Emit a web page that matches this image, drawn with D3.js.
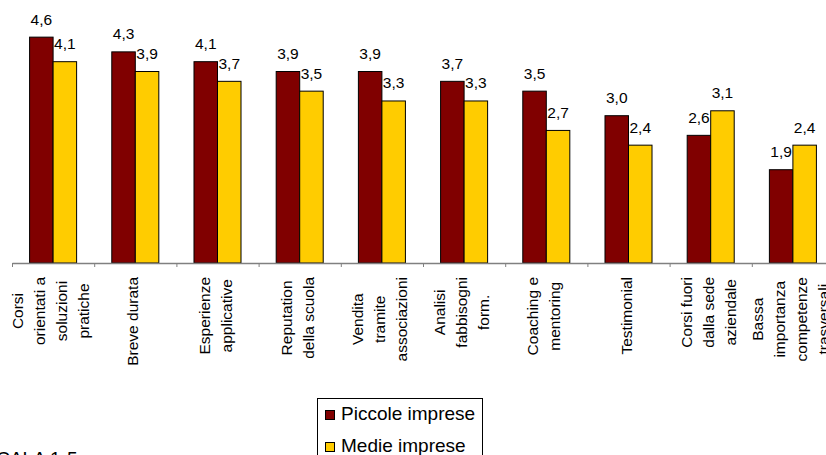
<!DOCTYPE html>
<html>
<head>
<meta charset="utf-8">
<script src="https://cdn.jsdelivr.net/npm/d3@7"></script>
<style>
  html, body { margin: 0; padding: 0; background: #fff; overflow: hidden; }
  svg { display: block; font-family: "Liberation Sans", Arial, sans-serif; }
</style>
</head>
<body>
<svg id="chart" width="826" height="455"></svg>
<script>
// ---- data ----
const categories = [
  ["Corsi", "orientati a", "soluzioni", "pratiche"],
  ["Breve durata"],
  ["Esperienze", "applicative"],
  ["Reputation", "della scuola"],
  ["Vendita", "tramite", "associazioni"],
  ["Analisi", "fabbisogni", "form."],
  ["Coaching e", "mentoring"],
  ["Testimonial"],
  ["Corsi fuori", "dalla sede", "aziendale"],
  ["Bassa", "importanza", "competenze", "trasversali"]
];
const seriesNames = ["Piccole imprese", "Medie imprese"];
const piccole = [4.6, 4.3, 4.1, 3.9, 3.9, 3.7, 3.5, 3.0, 2.6, 1.9];
const medie   = [4.1, 3.9, 3.7, 3.5, 3.3, 3.3, 2.7, 2.4, 3.1, 2.4];
const seriesValues = [piccole, medie];
const colors = ["#800000", "#FFCC00"];
const footnote = "SCALA 1-5";

// ---- layout ----
const svg = d3.select("#chart");
const left = 12, step = 82.2;
const right = left + step * categories.length;
const baseY = 263;

const idx = d3.range(categories.length);
const x0 = d3.scaleBand().domain(idx).range([left, right])
  .paddingInner(0.428).paddingOuter(0.214);
const x1 = d3.scaleBand().domain(d3.range(seriesNames.length))
  .range([0, x0.bandwidth()]);
const y = d3.scaleLinear().domain([0, 5]).range([baseY, 17.5]);

// bars
const groups = svg.append("g").selectAll("g")
  .data(idx).join("g")
  .attr("transform", i => `translate(${x0(i)},0)`);

groups.selectAll("rect")
  .data(i => seriesValues.map((s, k) => ({ k, v: s[i] })))
  .join("rect")
  .attr("x", d => x1(d.k))
  .attr("y", d => y(d.v))
  .attr("width", x1.bandwidth())
  .attr("height", d => baseY - y(d.v))
  .attr("fill", d => colors[d.k])
  .attr("stroke", "#000")
  .attr("stroke-width", 1);

// value labels
groups.selectAll("text.val")
  .data(i => seriesValues.map((s, k) => ({ k, v: s[i] })))
  .join("text")
  .attr("class", "val")
  .attr("x", d => x1(d.k) + x1.bandwidth() / 2)
  .attr("y", d => y(d.v) - 12.5)
  .attr("text-anchor", "middle")
  .attr("font-size", 15.5)
  .attr("fill", "#000")
  .text(d => d3.format(".1f")(d.v).replace(".", ","));

// axis at category boundaries
const xb = d3.scaleLinear().domain([0, categories.length]).range([left, right]);
const axis = svg.append("g")
  .attr("transform", `translate(0,${baseY})`)
  .call(d3.axisBottom(xb).tickValues(d3.range(categories.length + 1))
    .tickFormat("").tickSize(4).tickSizeOuter(0));
axis.select(".domain").attr("stroke", "#808080").attr("stroke-width", 1.5);
axis.selectAll(".tick line").attr("stroke", "#808080").attr("stroke-width", 1);

// category labels (rotated, multi-line)
const lineGap = 22, labelTop = 277, catFont = 15.5;
idx.forEach(i => {
  const lines = categories[i];
  const cx = x0(i) + x0.bandwidth() / 2 - 2.5;
  const g = svg.append("g");
  const texts = lines.map((ln, j) => g.append("text")
    .attr("font-size", catFont)
    .attr("text-anchor", "middle")
    .attr("dominant-baseline", "central")
    .text(ln));
  const maxLen = d3.max(texts, t => t.node().getComputedTextLength());
  const cy = labelTop + maxLen / 2;
  texts.forEach((t, j) => {
    const lx = cx + (j - (lines.length - 1) / 2) * lineGap;
    t.attr("transform", `translate(${lx},${cy}) rotate(-90)`);
  });
});

// legend
const lg = svg.append("g");
lg.append("rect").attr("x", 317.5).attr("y", 398.5).attr("width", 165).attr("height", 80)
  .attr("fill", "#fff").attr("stroke", "#000").attr("stroke-width", 1);
seriesNames.forEach((name, k) => {
  const by = 420 + k * 32;
  lg.append("rect").attr("x", 325.5).attr("y", by - 9.5).attr("width", 9).attr("height", 9)
    .attr("fill", colors[k]).attr("stroke", "#000").attr("stroke-width", 1);
  lg.append("text").attr("x", 341).attr("y", by).attr("font-size", 19).text(name);
});

// footnote (cut at the bottom edge)
svg.append("text").attr("x", -16.5).attr("y", 465).attr("font-size", 19).text(footnote);
</script>
</body>
</html>
